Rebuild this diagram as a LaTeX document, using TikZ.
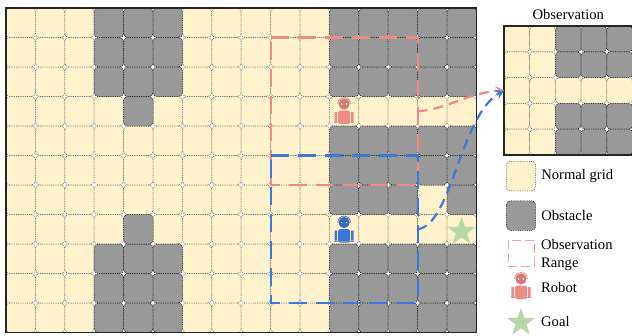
\documentclass[tikz,border=0pt]{standalone}
\usepackage{fontspec}
\setmainfont{Liberation Serif}
\usetikzlibrary{arrows.meta, positioning, shapes.geometric}

\definecolor{gridbeige}{HTML}{FFF2CC}
\definecolor{wallgray}{HTML}{999999}
\definecolor{robotred}{HTML}{EF8B85}
\definecolor{robotblue}{HTML}{3C78D8}
\definecolor{goalgreen}{HTML}{B6D7A8}

\begin{document}
\begin{tikzpicture}[
			x=1pt, y=-1pt,
			font=\fontsize{14.6}{18}\selectfont,
			normalcell/.style={draw=black!70, fill=gridbeige, rounded corners=4pt, line width=0.5pt, dash pattern=on 0.8pt off 1pt, inner sep=0pt, outer sep=0pt, minimum width=29.4pt, minimum height=29.5pt},
			wallcell/.style={normalcell, draw=black, fill=wallgray},
			smallnormal/.style={normalcell, minimum width=25.7pt, minimum height=25.8pt},
			smallwall/.style={wallcell, minimum width=25.7pt, minimum height=25.8pt},
			framebox/.style={draw=black!85, line width=1.2pt, inner sep=0pt, outer sep=0pt},
			rangebox/.style={inner sep=0pt, outer sep=0pt, minimum width=147pt, minimum height=147.5pt},
			rangeline/.style={line width=2.2pt, dash pattern=on 18pt off 9pt},
			goalstar/.style={star, star points=5, star point ratio=2.45, fill=goalgreen, inner sep=0pt, minimum size=29pt},
			arrow/.style={line width=2.2pt, dash pattern=on 10pt off 6pt, -{Stealth[length=9pt, width=10pt, inset=4pt]}},
			keylabel/.style={align=left, anchor=west, inner sep=0pt},
			pics/robot/.style={code={
				\draw[#1!85!black, line width=0.7pt] (-6.4,-6.5) arc (180:360:6.4);
				\fill[#1!88!black] (0,-6.5) circle (5.6);
				\fill[white] (-2.4,-6.5) circle (0.8) (2.4,-6.5) circle (0.8);
				\fill[#1, rounded corners=1.5pt] (-6,0.2) rectangle (6,13.5);
				\fill[#1] (-9.6,1.5) rectangle (-7,11.5) (7,1.5) rectangle (9.6,11.5);
				\fill[#1!80!black!70!white] (-10,11.5) rectangle (10,12.5);
			}}
			]
			
			\useasboundingbox (0,0) rectangle (632,335);
			
			% --- Grid ---
			\foreach \c in {0,...,15}
				\foreach \r in {0,...,10}
					\node[normalcell] (cell-\r-\c) at (\c*29.4+20.7, \r*29.5+22.75) {};
			
			% --- Obstacles ---
			\foreach \c in {3,4,5}
				\foreach \r in {0,1,2,8,9,10}
					\node[wallcell] (wall-\r-\c) at (\c*29.4+20.7, \r*29.5+22.75) {};
			\foreach \r in {3,7}
				\node[wallcell] (wall-\r-4) at (4*29.4+20.7, \r*29.5+22.75) {};
			\foreach \c in {11,...,15}
				\foreach \r in {0,1,2,4,5,8,9,10}
					\node[wallcell] (wall-\r-\c) at (\c*29.4+20.7, \r*29.5+22.75) {};
			\foreach \c in {11,12,13,15}
				\node[wallcell] (wall-6-\c) at (\c*29.4+20.7, 6*29.5+22.75) {};
			
			\node[framebox, minimum width=470.4pt, minimum height=324.5pt] (gridframe) at (241.2,170.25) {};
			
			% --- Robots and goal ---
			\pic at (344.1,110.5) {robot=robotred};
			\pic at (344.1,229) {robot=robotblue};
			\node[goalstar] (goalmark) at (461.5,231.5) {};
			
			% --- Observation ---
			\foreach \c in {0,...,4}
				\foreach \r in {0,...,4}
					\node[smallnormal] (obs-\r-\c) at (\c*25.7+516.85, \r*25.8+38.9) {};
			\foreach \c in {2,3,4}
				\foreach \r in {0,1,3,4}
					\node[smallwall] (obswall-\r-\c) at (\c*25.7+516.85, \r*25.8+38.9) {};
			\node[framebox, minimum width=128.5pt, minimum height=129pt] (obsframe) at (568.25,90.5) {};
			\node[above=3pt of obsframe] (obstitle) {Observation};
			
			% --- Observation ranges ---
			\node[rangebox] (redrange) at (344.1,111.25) {};
			\node[rangebox] (bluerange) at (344.1,229.25) {};
			\draw[rangeline, robotred] (redrange.north west) -- (redrange.north east) -- (redrange.south east) -- (redrange.south west) -- cycle;
			\draw[rangeline, robotblue] (bluerange.north west) -- (bluerange.north east) -- (bluerange.south east) -- (bluerange.south west) -- cycle;
			
			% --- Arrows ---
			\draw[arrow, robotred] (redrange.east) .. controls (445,110) and (470,92) .. (obsframe.west);
			\draw[arrow, robotblue] (bluerange.east) .. controls (452,225) and (460,115) .. (obsframe.west);
			
			% --- Legend ---
			\node[normalcell] (normalkey) at (521,176) {};
			\node[keylabel, right=5.5pt of normalkey] (normallabel) {Normal grid};
			\node[wallcell, below=10pt of normalkey] (wallkey) {};
			\node[keylabel, right=5.5pt of wallkey] (walllabel) {Obstacle};
			\node[below=10pt of wallkey, draw=robotred!80, line width=1pt, dash pattern=on 9pt off 4pt, minimum size=26pt, inner sep=0pt, outer sep=0pt] (rangekey) {};
			\node[keylabel, right=7pt of rangekey, yshift=-1.5pt] (rangelabel) {Observation\\Range};
			\pic at (521,285.5) {robot=robotred};
			\node[keylabel] (robotlabel) at (541,288) {Robot};
			\node[goalstar] (goalkey) at (521,322.5) {};
			\node[keylabel] (goallabel) at (541,322) {Goal};
			
	\end{tikzpicture}
\end{document}
